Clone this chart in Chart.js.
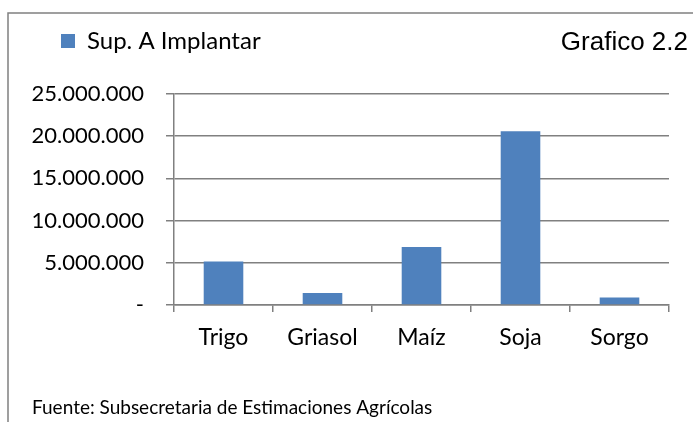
<!DOCTYPE html>
<html>
<head>
<meta charset="utf-8">
<script src="https://cdn.jsdelivr.net/npm/chart.js"></script>
<style>
  html, body { margin: 0; padding: 0; background: #fff; }
  #wrap { width: 693px; height: 422px; }
</style>
</head>
<body>
<div id="wrap"><canvas id="chart" width="693" height="422"></canvas></div>
<script>
// crops (categories) and planted surface
const categories = ['Trigo', 'Griasol', 'Maíz', 'Soja', 'Sorgo'];
const supImplantar = [5150000, 1420000, 6860000, 20600000, 900000];
const seriesName = 'Sup. A Implantar';

// y axis range / steps
const yMin = 0;
const yMax = 25000000;
const yStep = 5000000;

const chartTitle = 'Grafico 2.2';
const sourceNote = 'Fuente: Subsecretaria de Estimaciones Agrícolas';

const gridColor = '#808080';

// thousands with dots, zero shown as a dash
function formatTick(value) {
    if (value === 0) return '-';
    return String(value).replace(/\B(?=(\d{3})+(?!\d))/g, '.');
}

// outer frame, title on the right and the source note at the bottom
const decorPlugin = {
    id: 'decor',
    beforeDraw(chart) {
        const ctx = chart.ctx;
        ctx.save();
        ctx.strokeStyle = gridColor;
        ctx.lineWidth = 1.5;
        ctx.strokeRect(8, 13, 720, 440);
        ctx.restore();
    },
    afterDraw(chart) {
        const ctx = chart.ctx;
        ctx.save();
        ctx.fillStyle = '#000';
        ctx.font = '26px "Liberation Sans", Arial, sans-serif';
        ctx.textAlign = 'right';
        ctx.textBaseline = 'alphabetic';
        ctx.fillText(chartTitle, 688, 50);

        ctx.font = '19px Lato, sans-serif';
        ctx.textAlign = 'left';
        ctx.fillText(sourceNote, 32, 414);
        ctx.restore();
    }
};

const canvas = document.getElementById('chart');

const chart = new Chart(canvas, {
    type: 'bar',
    data: {
        labels: categories,
        datasets: [{
            label: seriesName,
            data: supImplantar,
            backgroundColor: '#4F81BD',
            borderWidth: 0,
            barPercentage: 0.4,
            categoryPercentage: 1.0
        }]
    },
    options: {
        responsive: false,
        animation: false,
        devicePixelRatio: 1,
        layout: {
            padding: { left: 32, right: 24, top: 0, bottom: 0 }
        },
        plugins: {
            legend: {
                position: 'top',
                align: 'start',
                weight: 3000,
                labels: {
                    color: '#000',
                    font: { family: 'Lato', size: 24 },
                    boxWidth: 14,
                    boxHeight: 14,
                    padding: 29
                }
            },
            // empty row that keeps the plot below the legend line
            subtitle: {
                display: true,
                text: '',
                font: { size: 10 },
                padding: { top: 0, bottom: 19 }
            },
            tooltip: { enabled: false }
        },
        scales: {
            x: {
                grid: {
                    drawOnChartArea: false,
                    drawTicks: true,
                    tickLength: 7,
                    color: gridColor,
                    lineWidth: 1.5,
                    offset: true
                },
                border: { color: gridColor, width: 1.5 },
                ticks: {
                    color: '#000',
                    font: { family: 'Lato', size: 23 },
                    padding: 12
                },
                afterFit(scale) {
                    scale.height = 117;
                }
            },
            y: {
                min: yMin,
                max: yMax,
                ticks: {
                    stepSize: yStep,
                    color: '#000',
                    font: { family: 'Lato', size: 22 },
                    padding: 22,
                    callback: (value) => formatTick(value)
                },
                grid: {
                    color: gridColor,
                    lineWidth: 1.5,
                    tickLength: 8
                },
                border: { display: true, color: gridColor, width: 1.5 },
                afterFit(scale) {
                    scale.width = 142;
                }
            }
        }
    },
    plugins: [decorPlugin]
});
</script>
</body>
</html>
